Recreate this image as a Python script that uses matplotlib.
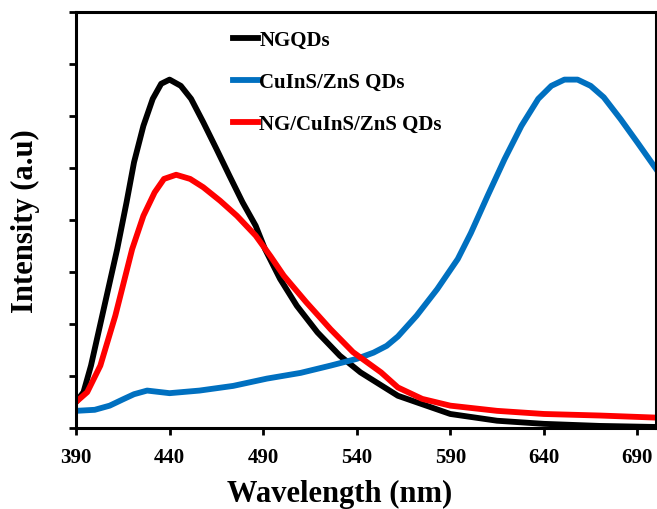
import numpy as np
import matplotlib
matplotlib.use('Agg')
import matplotlib.pyplot as plt

plt.rcParams['font.family'] = 'Liberation Serif'
plt.rcParams['font.weight'] = 'bold'

# NGQDs (black)
ngqd_nm = [390, 394, 398, 404, 412, 417, 421, 426, 431, 435.5, 440, 446, 451.5, 458,
           465, 472, 479, 486, 491, 499, 508, 519, 531, 542, 562, 590, 615, 640,
           670, 700]
ngqd_int = [0.50, 0.69, 1.20, 2.16, 3.44, 4.34, 5.11, 5.81, 6.33, 6.62, 6.70, 6.58,
            6.33, 5.88, 5.37, 4.85, 4.34, 3.89, 3.44, 2.87, 2.35, 1.84, 1.39, 1.07,
            0.62, 0.27, 0.14, 0.08, 0.04, 0.02]

# CuInS/ZnS QDs (blue)
cis_nm = [390, 400, 408, 415, 421, 428, 440, 456, 474, 492, 510, 526, 540, 549, 556,
          562, 572, 583, 594, 601, 610, 619, 628, 637, 644, 651, 658, 665, 672,
          681, 690, 700]
cis_int = [0.33, 0.35, 0.43, 0.55, 0.65, 0.72, 0.67, 0.72, 0.81, 0.95, 1.06, 1.20,
           1.33, 1.45, 1.58, 1.76, 2.16, 2.67, 3.25, 3.75, 4.47, 5.17, 5.81, 6.33,
           6.58, 6.70, 6.70, 6.58, 6.36, 5.94, 5.49, 4.98]

# NG/CuInS/ZnS QDs (red)
ng_cis_nm = [390, 396, 403, 411, 420, 426, 432, 437, 443.5, 451, 458, 467, 476, 486,
             494, 501, 513, 526, 538, 553, 562, 575, 590, 615, 640, 670, 700]
ng_cis_int = [0.50, 0.69, 1.20, 2.16, 3.44, 4.08, 4.53, 4.79, 4.87, 4.79, 4.63, 4.37,
              4.08, 3.70, 3.30, 2.93, 2.42, 1.90, 1.46, 1.07, 0.78, 0.56, 0.43, 0.33,
              0.27, 0.24, 0.20]

x_ticks = [390, 440, 490, 540, 590, 640, 690]

fig = plt.figure(figsize=(6.57, 5.10), dpi=100)
ax = fig.add_axes([0.1157, 0.1588, 0.883, 0.8157])

ax.plot(ngqd_nm, ngqd_int, color='black', lw=4.2, label='NGQDs')
ax.plot(cis_nm, cis_int, color='#0070C0', lw=4.2, label='CuInS/ZnS QDs')
ax.plot(ng_cis_nm, ng_cis_int, color='#FF0000', lw=4.2, label='NG/CuInS/ZnS QDs')

ax.set_xlim(390, 700)
ax.set_ylim(0, 8)
ax.set_xticks(x_ticks)
ax.set_yticks(np.arange(0, 9, 1))
ax.set_yticklabels([])
ax.tick_params(axis='both', direction='out', length=5, width=2, labelsize=15)
ax.tick_params(axis='x', pad=9)
for s in ax.spines.values():
    s.set_linewidth(2.2)

ax.set_xlabel('Wavelength (nm)', fontsize=22, fontweight='bold')
ax.set_ylabel('Intensity (a.u)', fontsize=22, fontweight='bold')
ax.xaxis.set_label_coords(0.455, -0.122)
ax.yaxis.set_label_coords(-0.062, 0.5)

ax.legend(loc='upper left', bbox_to_anchor=(0.271, 0.956), frameon=False,
          borderpad=0, borderaxespad=0,
          handlelength=1.2, handletextpad=0.05, labelspacing=1.05,
          prop={'weight': 'bold', 'size': 15})

fig.savefig('out.png', dpi=100)
